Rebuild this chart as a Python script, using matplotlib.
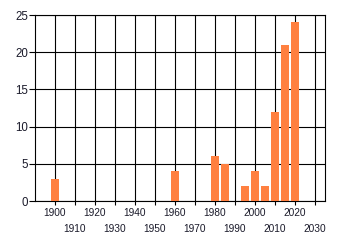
import matplotlib
matplotlib.use("Agg")
import matplotlib.pyplot as plt
from matplotlib.ticker import MultipleLocator, FixedLocator

years = [1900, 1960, 1980, 1985, 1995, 2000, 2005, 2010, 2015, 2020]
counts = [3, 4, 6, 5, 2, 4, 2, 12, 21, 24]
major_years = [1900, 1920, 1940, 1960, 1980, 2000, 2020]
minor_years = [1910, 1930, 1950, 1970, 1990, 2010, 2030]

plt.rcParams['font.family'] = ['Liberation Sans', 'DejaVu Sans']

fig = plt.figure(figsize=(3.4, 2.45), dpi=100)
ax = fig.add_axes([35/340, 44/245, 290/340, 186/245])

ax.bar(years, counts, width=4, color='#ff8040', zorder=3)

ax.set_xlim(1890, 2035)
ax.set_ylim(0, 25)
ax.xaxis.set_major_locator(FixedLocator(major_years))
ax.xaxis.set_minor_locator(FixedLocator(minor_years))
ax.set_xticklabels([str(y) for y in major_years])
ax.set_xticklabels([str(y) for y in minor_years], minor=True)
ax.yaxis.set_major_locator(MultipleLocator(5))

tc = '#1a1a2a'
ax.tick_params(axis='x', which='major', length=3, width=0.8, pad=2, labelsize=7.3, colors='black', labelcolor=tc)
ax.tick_params(axis='x', which='minor', length=3, width=0.8, pad=13.5, labelsize=7.3, colors='black', labelcolor=tc)
ax.tick_params(axis='y', length=4, width=0.8, pad=1, labelsize=8.3, colors='black', labelcolor=tc)

ax.grid(True, which='both', axis='x', color='black', linewidth=0.8, zorder=1)
ax.grid(True, which='major', axis='y', color='black', linewidth=0.8, zorder=1)
ax.set_axisbelow(True)
for s in ax.spines.values():
    s.set_color('black')
    s.set_linewidth(0.8)

fig.savefig('out.png', dpi=100)
